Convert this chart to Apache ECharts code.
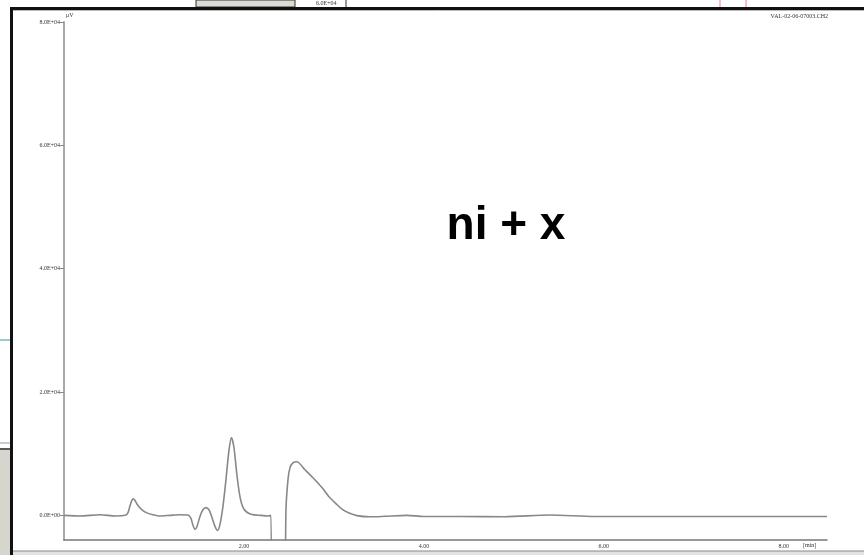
<!DOCTYPE html>
<html>
<head>
<meta charset="utf-8">
<script src="https://cdn.jsdelivr.net/npm/echarts@6/dist/echarts.min.js"></script>
<style>
html,body{margin:0;padding:0;background:#fff;}
#c{width:864px;height:555px;}
</style>
</head>
<body>
<div id="c"></div>
<script>
// Retention time (min)
const times = [0.00,0.18,0.40,0.57,0.68,0.71,0.733,0.756,0.772,0.789,0.822,0.867,0.922,0.989,1.067,1.178,1.289,1.378,1.411,1.433,1.456,1.478,1.511,1.544,1.578,1.611,1.644,1.678,1.706,1.733,1.767,1.80,1.833,1.861,1.889,1.922,1.956,1.989,2.033,2.089,2.178,2.267,2.30,2.311,2.444,2.467,2.489,2.511,2.544,2.589,2.678,2.767,2.867,2.956,3.022,3.089,3.156,3.256,3.40,3.56,3.81,4.00,4.40,4.90,5.40,5.90,6.50,7.20,7.90,8.48];
// Signal (µV)
const signal = [0,-100,100,-100,0,400,1500,2500,2700,2400,1600,900,400,100,-100,0,100,50,-500,-1600,-2300,-1800,-200,900,1250,900,-300,-1800,-2450,-1500,1500,5800,10500,12600,11000,6500,3000,1300,500,150,0,-100,0,-30000,-20000,900,5760,7700,8500,8680,7400,6090,4500,2840,1900,1000,450,-50,-240,-160,0,-180,-200,-220,50,-200,-180,-200,-190,-200];
const yTicks = [0,20000,40000,60000,80000];
const xTicks = [2,4,6,8];
const fileName = 'VAL-02-06-07003.CH2';
const sampleLabel = 'ni + x';

const data = times.map((t,i)=>[t,signal[i]]);
const chart = echarts.init(document.getElementById('c'));
const fmtY = v => v===0 ? '0.0E+00' : (v/10000).toFixed(1)+'E+04';
chart.setOption({
  animation:false,
  backgroundColor:'#fff',
  grid:{left:64,right:37,top:22,bottom:15,containLabel:false},
  xAxis:{
    type:'value',min:0,max:8.48,
    axisLine:{show:true,onZero:false,lineStyle:{color:'#777',width:1.5}},
    axisTick:{show:false},
    splitLine:{show:false},
    axisLabel:{customValues:xTicks,formatter:v=>v.toFixed(2),fontSize:6,color:'#333',margin:3,fontFamily:'Liberation Serif'}
  },
  yAxis:{
    type:'value',min:-4000,max:80000,
    axisLine:{show:true,lineStyle:{color:'#aaa',width:2}},
    axisTick:{show:true,customValues:yTicks,length:4,lineStyle:{color:'#888'}},
    splitLine:{show:false},
    axisLabel:{customValues:yTicks,formatter:fmtY,fontSize:6,color:'#333',margin:4,fontFamily:'Liberation Serif'}
  },
  series:[{
    type:'line',data:data,symbol:'none',smooth:0.25,clip:true,
    lineStyle:{color:'#888',width:1.6}
  }],
  graphic:[
    // background artifacts
    {type:'rect',shape:{x:0,y:0,width:864,height:8},style:{fill:'#fff'},z:100},
    {type:'rect',shape:{x:196,y:0,width:99,height:7},style:{fill:'#dcdcd4',stroke:'#333',lineWidth:1},z:101},
    {type:'text',left:316,top:0,style:{text:'6.0E+04',fontSize:6,fill:'#333',fontFamily:'Liberation Serif'},z:101},
    {type:'line',shape:{x1:346,y1:0,x2:346,y2:7},style:{stroke:'#333',lineWidth:1},z:101},
    {type:'line',shape:{x1:720,y1:0,x2:720,y2:7},style:{stroke:'#f08080',lineWidth:1},z:101},
    {type:'line',shape:{x1:746,y1:0,x2:746,y2:7},style:{stroke:'#f08080',lineWidth:1},z:101},
    {type:'rect',shape:{x:0,y:0,width:11,height:555},style:{fill:'#fff'},z:100},
    {type:'line',shape:{x1:0,y1:340,x2:10,y2:340},style:{stroke:'#2a9d9d',lineWidth:1},z:101},
    {type:'line',shape:{x1:0,y1:443,x2:10,y2:443},style:{stroke:'#999',lineWidth:1},z:101},
    {type:'line',shape:{x1:0,y1:449,x2:10,y2:449},style:{stroke:'#222',lineWidth:1.5},z:101},
    {type:'rect',shape:{x:0,y:450,width:10,height:105},style:{fill:'#d6d6ce'},z:101},
    // window frame
    {type:'rect',shape:{x:10,y:7,width:854,height:3},style:{fill:'#111'},z:102},
    {type:'line',shape:{x1:13,y1:10.5,x2:864,y2:10.5},style:{stroke:'#bbb',lineWidth:1},z:102},
    {type:'rect',shape:{x:10,y:7,width:3,height:548},style:{fill:'#111'},z:102},
    {type:'rect',shape:{x:13,y:551,width:851,height:4},style:{fill:'#e2e2e2'},z:102},
    {type:'line',shape:{x1:13,y1:551,x2:864,y2:551},style:{stroke:'#888',lineWidth:1},z:102},
    // texts
    {type:'text',left:66,top:12,style:{text:'μV',fontSize:6,fill:'#333',fontFamily:'Liberation Serif'},z:103},
    {type:'text',right:36,top:13,style:{text:fileName,fontSize:6,fill:'#333',fontFamily:'Liberation Serif'},z:103},
    {type:'text',left:803,top:542,style:{text:'[min]',fontSize:6,fill:'#333',fontFamily:'Liberation Serif'},z:103},
    {type:'text',x:506,y:226,style:{text:sampleLabel,fontSize:46,fontWeight:'bold',fill:'#000',fontFamily:'Liberation Sans',align:'center',verticalAlign:'middle'},z:103}
  ]
});
</script>
</body>
</html>
